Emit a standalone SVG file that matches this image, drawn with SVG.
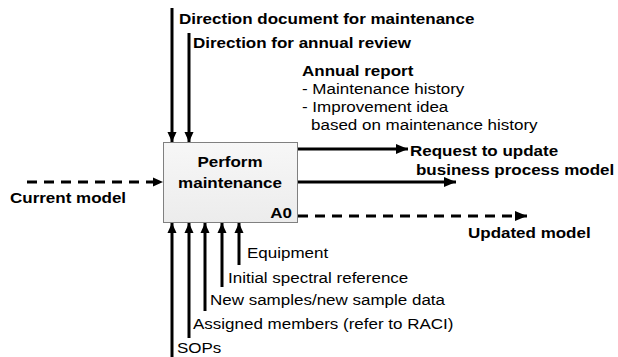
<svg xmlns="http://www.w3.org/2000/svg" width="618" height="357" viewBox="0 0 618 357">
<defs>
<linearGradient id="g" x1="0" y1="0" x2="0" y2="1"><stop offset="0" stop-color="#f7f7f7"/><stop offset="1" stop-color="#ececec"/></linearGradient>
<marker id="ah" markerWidth="10" markerHeight="11" refX="11" refY="5" orient="auto" markerUnits="userSpaceOnUse" viewBox="0 0 11 10"><path d="M0,0 L11,5 L0,10 z" fill="#000"/></marker>
<marker id="ahw" markerWidth="12" markerHeight="10" refX="12" refY="5" orient="auto" markerUnits="userSpaceOnUse" viewBox="0 0 12 10"><path d="M0,0 L12,5 L0,10 z" fill="#000"/></marker>
</defs>
<style>
text{font-family:"Liberation Sans",Arial,sans-serif;font-size:15px;fill:#000}
.b{font-weight:bold}
.c{stroke:#000;stroke-width:3;fill:none}
.d{stroke-dasharray:10,7}
</style>
<g id="connectors">
<path class="c" d="M172,8 V142" marker-end="url(#ah)"/>
<path class="c" d="M189,33 V142" marker-end="url(#ah)"/>
<path class="c d" d="M27,182 H163" marker-end="url(#ah)"/>
<path class="c" d="M298,149 H408" marker-end="url(#ahw)"/>
<path class="c" d="M298,182 H456" marker-end="url(#ahw)"/>
<path class="c d" d="M298,216 H527" marker-end="url(#ahw)"/>
<path class="c" d="M172,357 V223" marker-end="url(#ah)"/>
<path class="c" d="M189,338 V223" marker-end="url(#ah)"/>
<path class="c" d="M205,311 V223" marker-end="url(#ah)"/>
<path class="c" d="M222,287 V223" marker-end="url(#ah)"/>
<path class="c" d="M239,265 V223" marker-end="url(#ah)"/>
</g>
<g id="A0">
<rect x="163.5" y="142.5" width="134" height="80" fill="url(#g)" stroke="#808080" stroke-width="1"/>
<text class="b" transform="translate(230,167) scale(1.133,1)" text-anchor="middle">Perform</text>
<text class="b" transform="translate(230,188) scale(1.133,1)" text-anchor="middle">maintenance</text>
<text class="b" transform="translate(292,218) scale(1.133,1)" text-anchor="end">A0</text>
</g>
<g id="labels">
<text class="b" transform="translate(179,24) scale(1.133,1)">Direction document for maintenance</text>
<text class="b" transform="translate(193,48) scale(1.133,1)">Direction for annual review</text>
<text class="b" transform="translate(302,76) scale(1.133,1)">Annual report</text>
<text transform="translate(302,94) scale(1.133,1)">- Maintenance history</text>
<text transform="translate(302,112) scale(1.133,1)">- Improvement idea</text>
<text transform="translate(311,130) scale(1.133,1)">based on maintenance history</text>
<text class="b" transform="translate(410,156) scale(1.133,1)">Request to update</text>
<text class="b" transform="translate(416,175) scale(1.133,1)">business process model</text>
<text class="b" transform="translate(10,203) scale(1.133,1)">Current model</text>
<text class="b" transform="translate(468,238) scale(1.133,1)">Updated model</text>
<text transform="translate(247,258) scale(1.133,1)">Equipment</text>
<text transform="translate(228,283) scale(1.133,1)">Initial spectral reference</text>
<text transform="translate(210,305) scale(1.133,1)">New samples/new sample data</text>
<text transform="translate(193,329) scale(1.133,1)">Assigned members (refer to RACI)</text>
<text transform="translate(177,353) scale(1.133,1)">SOPs</text>
</g>
</svg>
